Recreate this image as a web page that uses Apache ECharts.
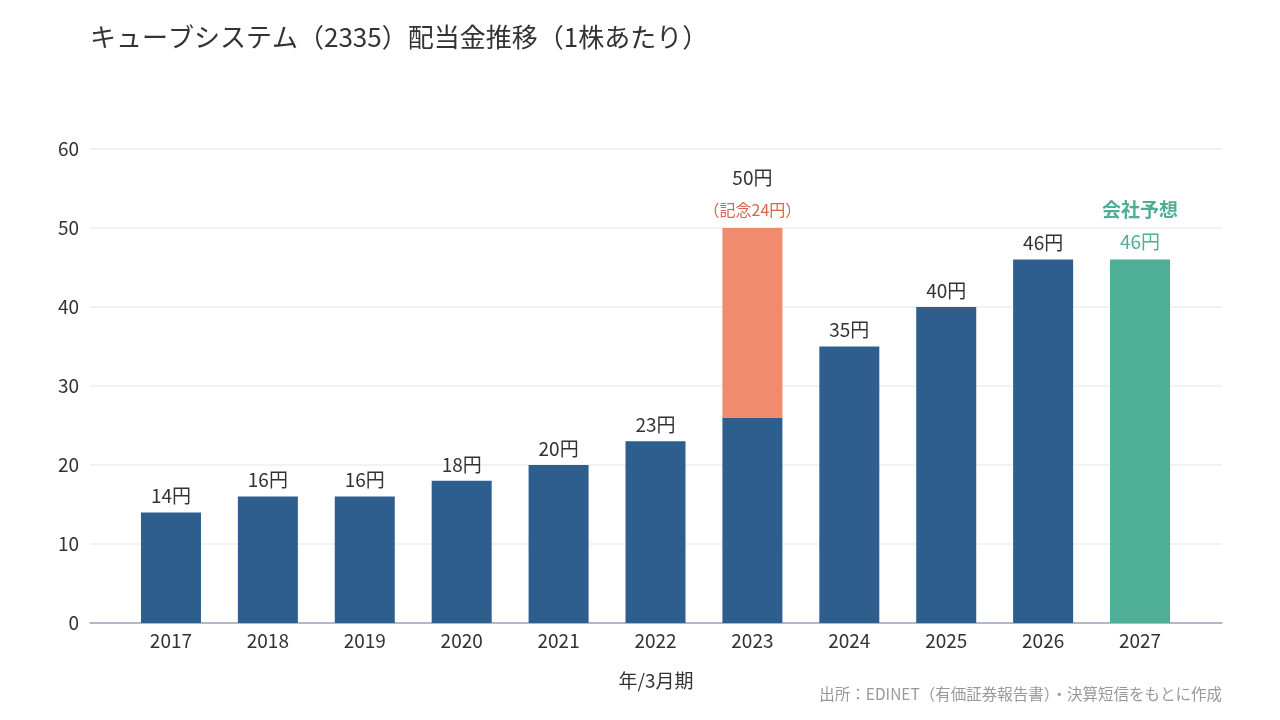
<!DOCTYPE html>
<html><head><meta charset="utf-8">
<script src="https://cdn.jsdelivr.net/npm/echarts@6/dist/echarts.min.js"></script>
<style>html,body{margin:0;padding:0;background:#fff}#c{width:1280px;height:720px}</style>
</head><body><div id="c"></div>
<script>
const years = ['2017','2018','2019','2020','2021','2022','2023','2024','2025','2026','2027'];
const ordinary = [14,16,16,18,20,23,26,35,40,46,null];
const commemorative = [null,null,null,null,null,null,24,null,null,null,null];
const forecast = [null,null,null,null,null,null,null,null,null,null,46];
const yTicks = [0,10,20,30,40,50,60];

const FONT = '"Noto Sans CJK JP","Noto Sans",sans-serif';
const BLUE = '#2e5e8e', ORANGE = '#f08b70', GREEN = '#4fae96';

const baseData = ordinary.map((v,i) => {
  if (v == null) return null;
  if (commemorative[i] != null) return {value: v, label: {show: false}};
  return v;
});
const commData = commemorative.map((v,i) => v == null ? null : {value: v, total: v + ordinary[i]});

const yMin = yTicks[0], yMax = yTicks[yTicks.length-1];
const chart = echarts.init(document.getElementById('c'));
chart.setOption({
  animation: false,
  textStyle: {fontFamily: FONT},
  title: {text: 'キューブシステム（2335）配当金推移（1株あたり）', left: 85, top: 19,
    textStyle: {fontFamily: FONT, fontSize: 26, fontWeight: 'normal', color: '#333'}},
  grid: [
    {left: 90, right: 58, top: 149, bottom: 97},
    {left: 122.5, right: 91.5, top: 149, bottom: 97}
  ],
  xAxis: [
    {type: 'category', gridIndex: 0, data: [''],
      name: '年/3月期', nameLocation: 'middle', nameGap: 48,
      nameTextStyle: {fontFamily: FONT, fontSize: 19, color: '#333'},
      axisLine: {lineStyle: {color: '#9ca5be', width: 1.5}},
      axisTick: {show: false}, axisLabel: {show: false}},
    {type: 'category', gridIndex: 1, data: years,
      axisLine: {show: false}, axisTick: {show: false},
      axisLabel: {fontFamily: FONT, fontSize: 19, color: '#333', margin: 8}}
  ],
  yAxis: [
    {type: 'value', gridIndex: 0, min: yMin, max: yMax, interval: 10,
      axisLine: {show: false}, axisTick: {show: false},
      axisLabel: {fontFamily: FONT, fontSize: 19, color: '#333', margin: 11},
      splitLine: {lineStyle: {color: '#eeeeee', width: 1.5}}},
    {type: 'value', gridIndex: 1, min: yMin, max: yMax, interval: 10, show: false}
  ],
  graphic: [{type: 'text', right: 58, top: 686,
    style: {text: '出所：EDINET（有価証券報告書）・決算短信をもとに作成', fill: '#999', font: '15.5px ' + FONT, textAlign: 'right'}}],
  series: [
    {type: 'bar', xAxisIndex: 1, yAxisIndex: 1, stack: 's', data: baseData, barWidth: 60, itemStyle: {color: BLUE},
      label: {show: true, position: 'top', distance: 7, formatter: p => p.value + '円',
        fontFamily: FONT, fontSize: 19, color: '#333'}},
    {type: 'bar', xAxisIndex: 1, yAxisIndex: 1, stack: 's', data: commData, barWidth: 60, itemStyle: {color: ORANGE},
      label: {show: true, position: 'top', distance: 2,
        formatter: p => '{a|' + p.data.total + '円}\n{b|（記念' + p.value + '円）}',
        rich: {a: {fontFamily: FONT, fontSize: 19, color: '#333', lineHeight: 32},
               b: {fontFamily: FONT, fontSize: 16, color: '#d2674c', lineHeight: 32}}}},
    {type: 'bar', xAxisIndex: 1, yAxisIndex: 1, stack: 's', data: forecast, barWidth: 60, itemStyle: {color: GREEN},
      label: {show: true, position: 'top', distance: 2,
        formatter: p => '{b|会社予想}\n{a|' + p.value + '円}',
        rich: {a: {fontFamily: FONT, fontSize: 19, color: GREEN, lineHeight: 32},
               b: {fontFamily: FONT, fontSize: 19, fontWeight: 'bold', color: GREEN, lineHeight: 32}}}}
  ]
});
</script></body></html>
